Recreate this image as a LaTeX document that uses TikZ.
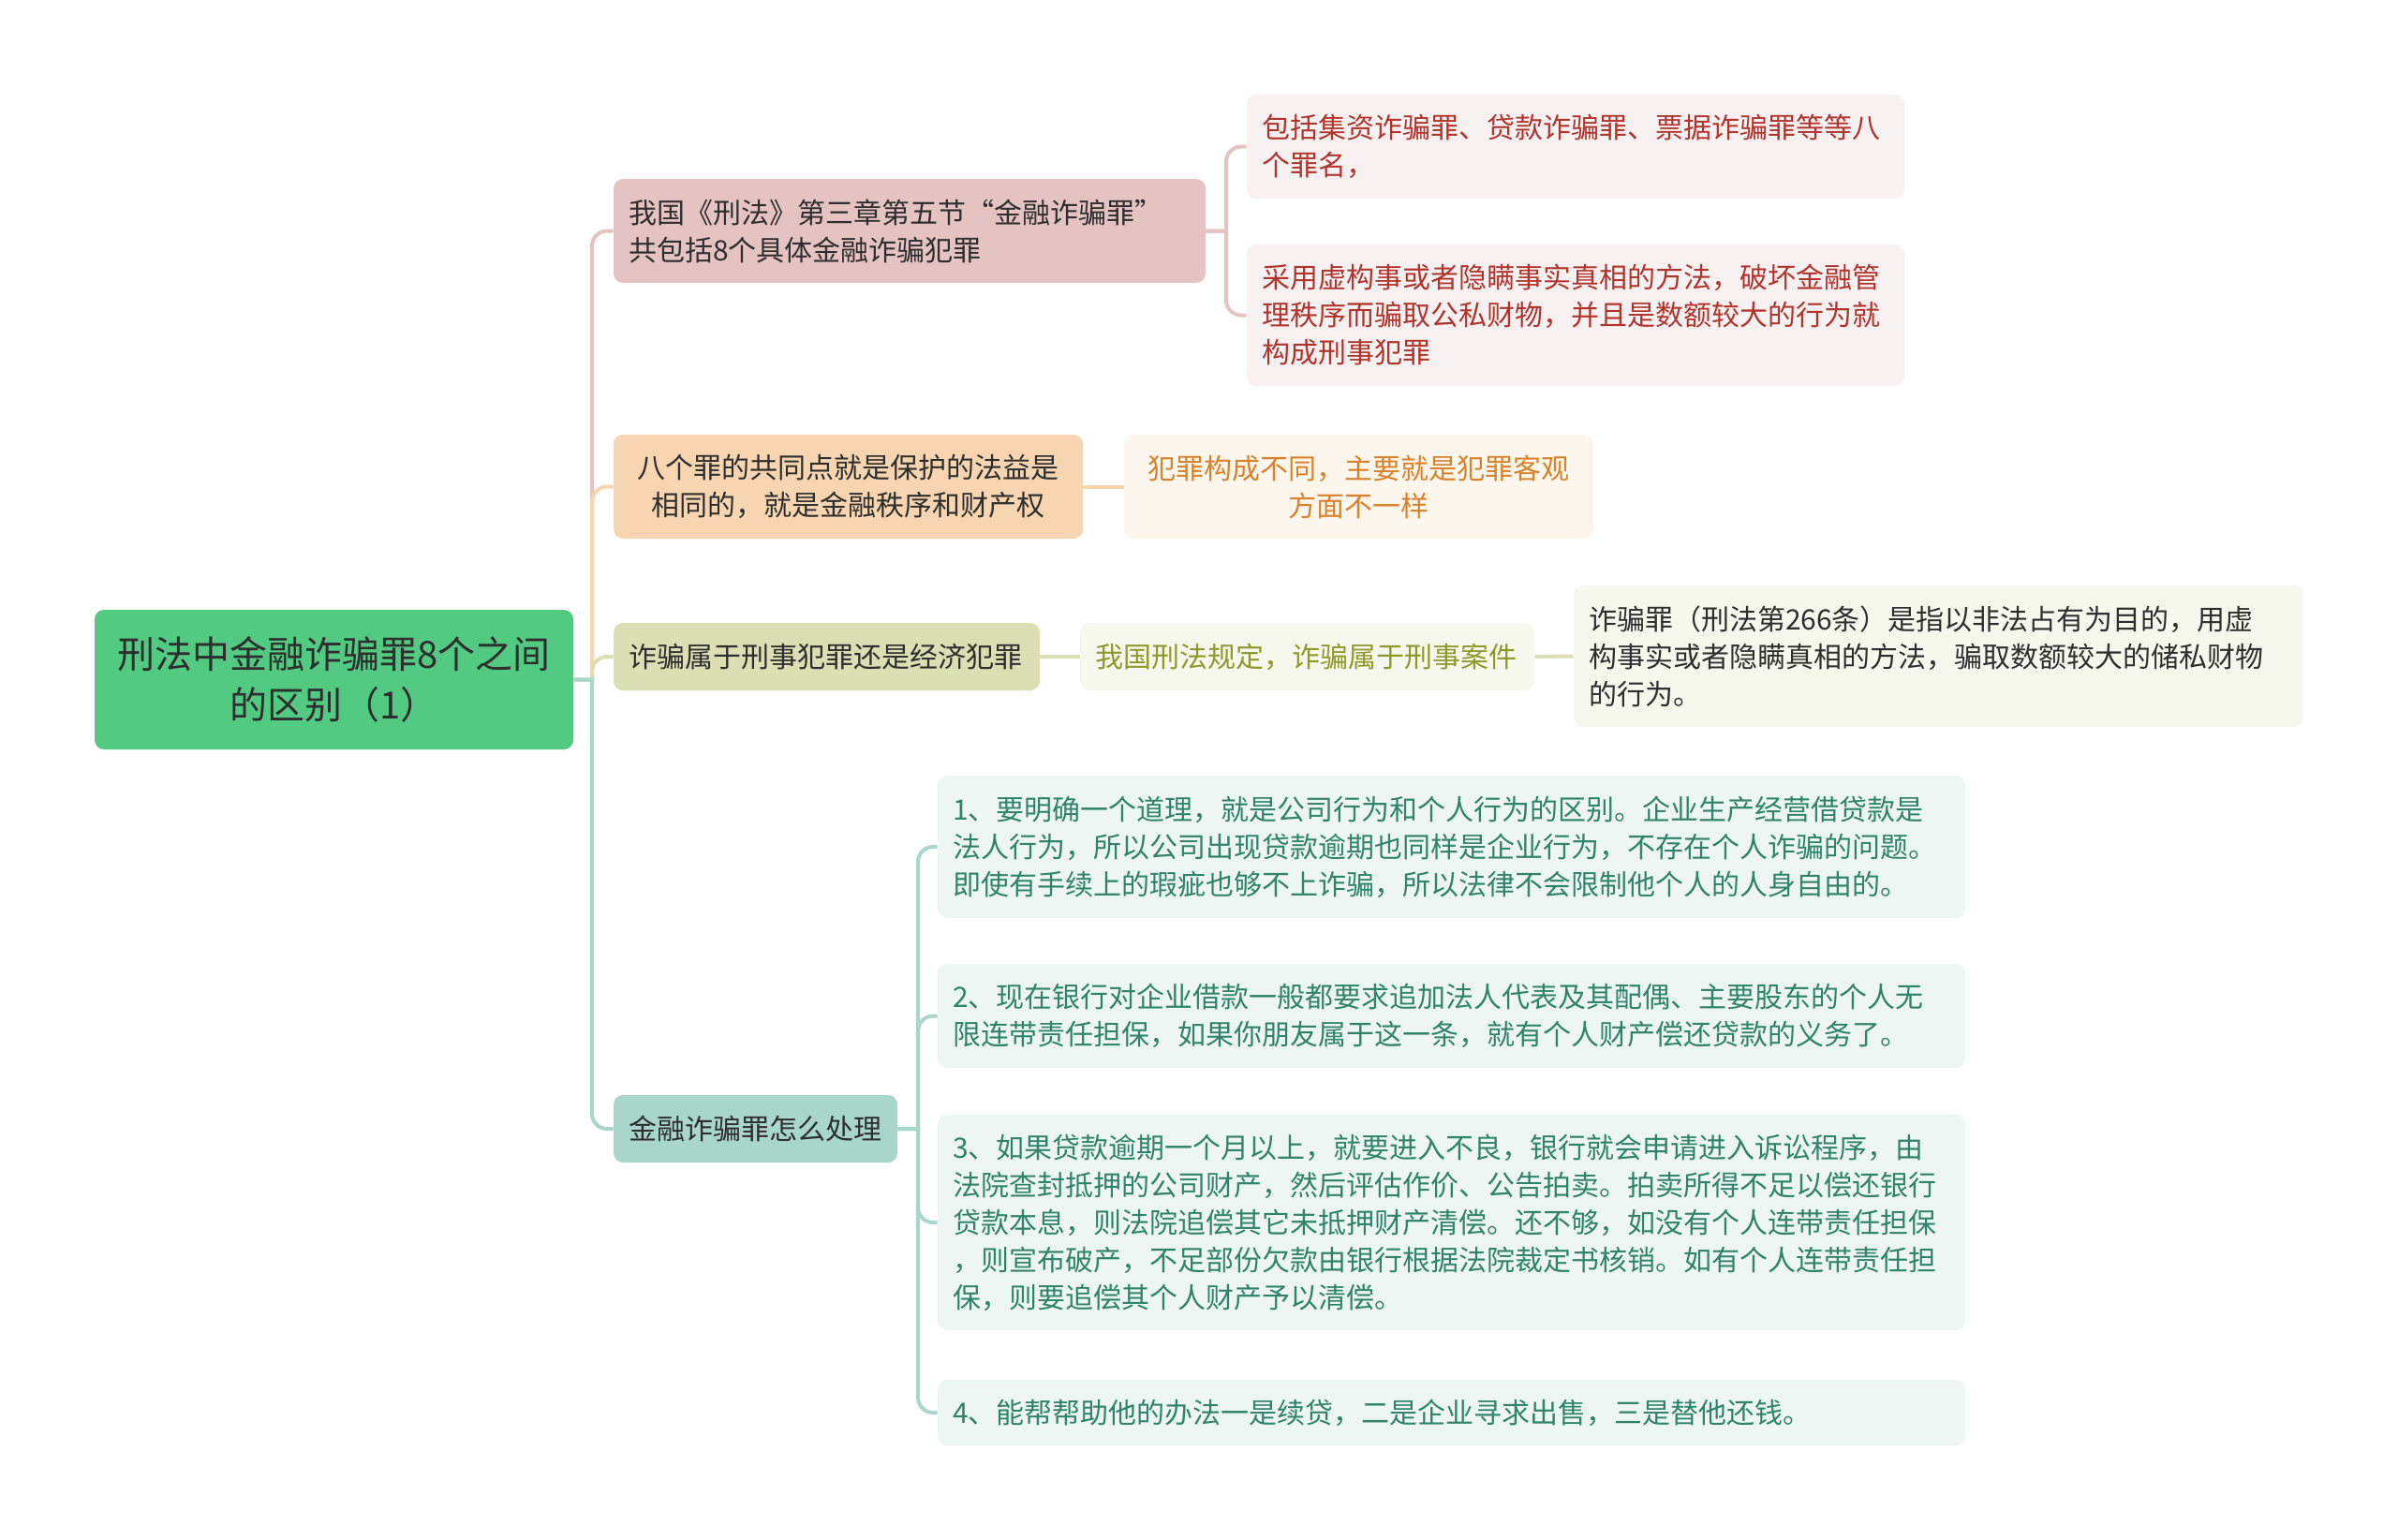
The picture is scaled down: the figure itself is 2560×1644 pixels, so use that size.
\documentclass[tikz,border=0pt]{standalone}
\usepackage{fontspec}
\setmainfont{Noto Sans CJK SC}
\definecolor{rootfill}{HTML}{52CA82}
\definecolor{pinkfill}{HTML}{E6C3C3}
\definecolor{pinklight}{HTML}{F8F1F1}
\definecolor{pinktext}{HTML}{B0342C}
\definecolor{orangefill}{HTML}{F6D5B0}
\definecolor{orangelight}{HTML}{FDF6ED}
\definecolor{orangetext}{HTML}{D9822B}
\definecolor{olivefill}{HTML}{DCDFB3}
\definecolor{olivelight}{HTML}{F7F8ED}
\definecolor{olivetext}{HTML}{8C9A2C}
\definecolor{tealfill}{HTML}{A8D6CA}
\definecolor{teallight}{HTML}{EEF6F3}
\definecolor{tealtext}{HTML}{2F8368}
\definecolor{darktext}{HTML}{2E2E2E}
\tikzset{
 box/.style={rounded corners=5pt,inner xsep=8pt,inner ysep=0pt,align=left,
  font=\fontsize{15}{20}\selectfont},
 link/.style={line width=2pt},
}
\begin{document}
\begin{tikzpicture}[x=0.5pt,y=-0.5pt]
 \useasboundingbox (0,0) rectangle (2560,1644);
 \node[box,fill=rootfill,text=darktext,align=center,text width=239.5pt,minimum height=74.5pt,
  font=\fontsize{20}{27}\selectfont] (root) at (356.5,725.5) {刑法中金融诈骗罪8个之间\\的区别（1）};
 \node[box,fill=pinkfill,text=darktext,text width=300pt,minimum height=55.5pt] (crime) at (971,246.5)
  {我国《刑法》第三章第五节“金融诈骗罪”\\共包括8个具体金融诈骗犯罪};
 \node[box,fill=pinklight,text=pinktext,text width=335pt,minimum height=55.5pt] (crimeA) at (1682,156.5)
  {包括集资诈骗罪、贷款诈骗罪、票据诈骗罪等等八\\个罪名，};
 \node[box,fill=pinklight,text=pinktext,text width=335pt,minimum height=75.5pt] (crimeB) at (1682,336.5)
  {采用虚构事或者隐瞒事实真相的方法，破坏金融管\\理秩序而骗取公私财物，并且是数额较大的行为就\\构成刑事犯罪};
 \node[box,fill=orangefill,text=darktext,align=center,text width=234.5pt,minimum height=55.5pt] (common) at (905.5,519.5)
  {八个罪的共同点就是保护的法益是\\相同的，就是金融秩序和财产权};
 \node[box,fill=orangelight,text=orangetext,align=center,text width=234.5pt,minimum height=55.5pt] (commonA) at (1450.5,519.5)
  {犯罪构成不同，主要就是犯罪客观\\方面不一样};
 \node[box,fill=olivefill,text=darktext,text width=211.5pt,minimum height=36pt] (nature) at (882.5,701)
  {诈骗属于刑事犯罪还是经济犯罪};
 \node[box,fill=olivelight,text=olivetext,text width=226.5pt,minimum height=36pt] (natureA) at (1395.5,701)
  {我国刑法规定，诈骗属于刑事案件};
 \node[box,fill=olivelight,text=darktext,text width=373.5pt,minimum height=75.5pt] (natureB) at (2069.5,700.5)
  {诈骗罪（刑法第266条）是指以非法占有为目的，用虚\\构事实或者隐瞒真相的方法，骗取数额较大的储私财物\\的行为。};
 \node[box,fill=tealfill,text=darktext,text width=135.5pt,minimum height=36pt] (handle) at (806.5,1205)
  {金融诈骗罪怎么处理};
 \node[box,fill=teallight,text=tealtext,text width=532.5pt,minimum height=76pt] (handleA) at (1549.5,904)
  {1、要明确一个道理，就是公司行为和个人行为的区别。企业生产经营借贷款是\\法人行为，所以公司出现贷款逾期也同样是企业行为，不存在个人诈骗的问题。\\即使有手续上的瑕疵也够不上诈骗，所以法律不会限制他个人的人身自由的。};
 \node[box,fill=teallight,text=tealtext,text width=532.5pt,minimum height=55.5pt] (handleB) at (1549.5,1084.5)
  {2、现在银行对企业借款一般都要求追加法人代表及其配偶、主要股东的个人无\\限连带责任担保，如果你朋友属于这一条，就有个人财产偿还贷款的义务了。};
 \node[box,fill=teallight,text=tealtext,text width=532.5pt,minimum height=115pt] (handleC) at (1549.5,1305)
  {3、如果贷款逾期一个月以上，就要进入不良，银行就会申请进入诉讼程序，由\\法院查封抵押的公司财产，然后评估作价、公告拍卖。拍卖所得不足以偿还银行\\贷款本息，则法院追偿其它未抵押财产清偿。还不够，如没有个人连带责任担保\\，则宣布破产，不足部份欠款由银行根据法院裁定书核销。如有个人连带责任担\\保，则要追偿其个人财产予以清偿。};
 \node[box,fill=teallight,text=tealtext,text width=532.5pt,minimum height=35pt] (handleD) at (1549.5,1508)
  {4、能帮帮助他的办法一是续贷，二是企业寻求出售，三是替他还钱。};
 \coordinate (hub) at (632,725.5);
 \coordinate (crimehub) at (1309,246.5);
 \coordinate (handlehub) at (980,1205);
 \draw[link,pinkfill] (root.east) -- (hub) [rounded corners=8pt] -- (hub |- crime.west) -- (crime.west);
 \draw[link,orangefill] (root.east) -- (hub) [rounded corners=8pt] -- (hub |- common.west) -- (common.west);
 \draw[link,olivefill] (root.east) -- (hub) [rounded corners=8pt] -- (hub |- nature.west) -- (nature.west);
 \draw[link,tealfill] (root.east) -- (hub) [rounded corners=8pt] -- (hub |- handle.west) -- (handle.west);
 \draw[link,pinkfill] (crime.east) -- (crimehub) [rounded corners=8pt] -- (crimehub |- crimeA.west) -- (crimeA.west);
 \draw[link,pinkfill] (crime.east) -- (crimehub) [rounded corners=8pt] -- (crimehub |- crimeB.west) -- (crimeB.west);
 \draw[link,orangefill] (common.east) -- (commonA.west);
 \draw[link,olivefill] (nature.east) -- (natureA.west);
 \draw[link,olivefill] (natureA.east) -- (natureB.west);
 \draw[link,tealfill] (handle.east) -- (handlehub) [rounded corners=8pt] -- (handlehub |- handleA.west) -- (handleA.west);
 \draw[link,tealfill] (handle.east) -- (handlehub) [rounded corners=8pt] -- (handlehub |- handleB.west) -- (handleB.west);
 \draw[link,tealfill] (handle.east) -- (handlehub) [rounded corners=8pt] -- (handlehub |- handleC.west) -- (handleC.west);
 \draw[link,tealfill] (handle.east) -- (handlehub) [rounded corners=8pt] -- (handlehub |- handleD.west) -- (handleD.west);
\end{tikzpicture}
\end{document}
